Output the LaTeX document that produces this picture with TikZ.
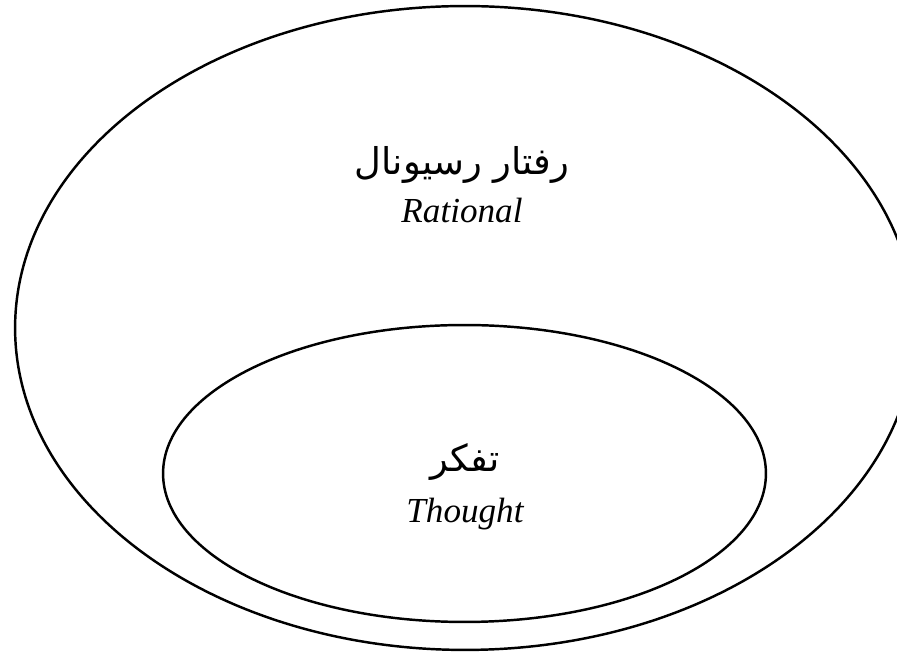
\documentclass[tikz,border=0pt]{standalone}
\usepackage{fontspec}
\setmainfont{Liberation Serif}
\newfontfamily\farsifont[Script=Arabic]{DejaVu Sans}
\TeXXeTstate=1
\usetikzlibrary{
  shapes.geometric,
  positioning
}
\tikzset{
  setnode/.style={
    draw, ellipse, line width=1.4pt, inner sep=0pt
  },
  fatext/.style={font=\farsifont\fontsize{21}{24}\selectfont, inner sep=0pt},
  entext/.style={font=\itshape\fontsize{20}{24}\selectfont, inner sep=0pt, anchor=base}
}

\begin{document}
\begin{tikzpicture}[x=0.02cm, y=0.02cm]
  \useasboundingbox (0,0) rectangle (897,652);
  \clip (0,0) rectangle (897,652);
  \node[setnode, minimum width=18cm, minimum height=12.88cm] (rational) at (465,324) {};
  \node[setnode, minimum width=12.06cm, minimum height=5.94cm] (thought) at (464.5,178.5) {};
  \node[fatext] (rationalfa) at (462,487) {\beginR رفتار رسیونال\endR};
  \node[entext] (rationalen) at (462,429) {Rational};
  \node[fatext] (thoughtfa) at (465,190) {\beginR تفکر\endR};
  \node[entext] (thoughten) at (465,129) {Thought};
\end{tikzpicture}
\end{document}
